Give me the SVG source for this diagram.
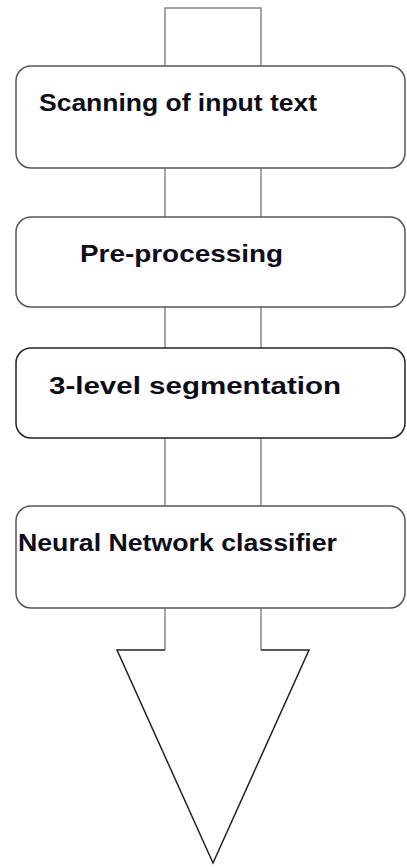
<svg xmlns="http://www.w3.org/2000/svg" width="407" height="867" viewBox="0 0 407 867">
<style>
.box{fill:#fff;stroke:#555;stroke-width:1.5}
.shaft{fill:none;stroke:#888;stroke-width:1.5}
.lbl{font-family:"Liberation Sans",Arial,sans-serif;font-weight:bold;font-size:24px;fill:#0d0d1a}
</style>
<rect width="407" height="867" fill="#fff"/>
<g id="connectors">
<path class="shaft" d="M165,66 V8 H261 V66"/>
<path class="shaft" d="M165,168 V217 M261,168 V217"/>
<path class="shaft" d="M165,307 V348 M261,307 V348"/>
<path class="shaft" d="M165,438 V506 M261,438 V506"/>
<path class="shaft" d="M165,608 V650 M261,608 V650"/>
<path d="M165,650 H117 L213,863 L309,650 H261" fill="#fff" stroke="#222" stroke-width="1.5" stroke-linejoin="miter"/>
</g>
<g id="n1"><rect class="box" x="16" y="66" width="389" height="102" rx="15"/><text class="lbl" x="39" y="111" textLength="278" lengthAdjust="spacingAndGlyphs">Scanning of input text</text></g>
<g id="n2"><rect class="box" x="16" y="217" width="389" height="90" rx="15"/><text class="lbl" x="80" y="262" textLength="203" lengthAdjust="spacingAndGlyphs">Pre-processing</text></g>
<g id="n3"><rect class="box" x="16" y="348" width="389" height="90" rx="15" style="stroke:#222"/><text class="lbl" x="49" y="394" textLength="292" lengthAdjust="spacingAndGlyphs">3-level segmentation</text></g>
<g id="n4"><rect class="box" x="16" y="506" width="389" height="102" rx="15"/><text class="lbl" x="18" y="551" textLength="319" lengthAdjust="spacingAndGlyphs">Neural Network classifier</text></g>
</svg>
